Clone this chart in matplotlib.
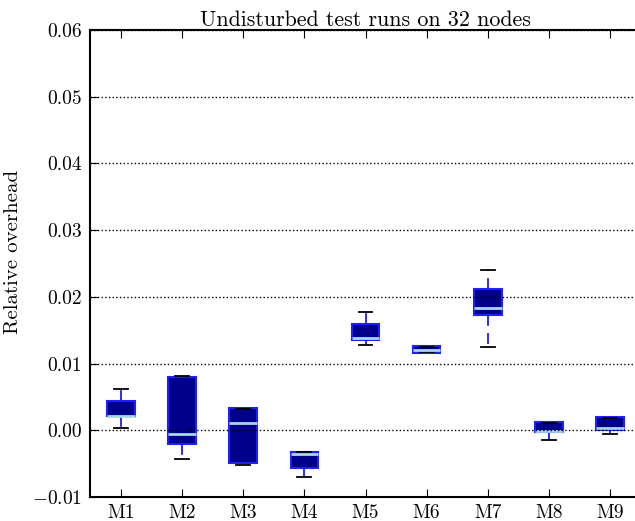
import matplotlib
matplotlib.use("Agg")
import matplotlib.pyplot as plt

plt.rcParams['font.family'] = 'cmr10'
plt.rcParams['axes.formatter.use_mathtext'] = True
plt.rcParams['mathtext.fontset'] = 'cm'

labels = ["M1", "M2", "M3", "M4", "M5", "M6", "M7", "M8", "M9"]
q1 = [0.0021, -0.0020, -0.0049, -0.0057, 0.0135, 0.0116, 0.0173, -0.0003, 0.0000]
q3 = [0.0044, 0.0080, 0.0033, -0.0033, 0.0159, 0.0126, 0.0212, 0.0012, 0.0020]
med = [0.0022, -0.0006, 0.0011, -0.0035, 0.0138, 0.0120, 0.0184, -0.0001, 0.0004]
whislo = [0.0003, -0.0043, -0.0052, -0.0070, 0.0128, 0.0117, 0.0125, -0.0015, -0.0005]
whishi = [0.0062, 0.0081, 0.0032, -0.0033, 0.0178, 0.0125, 0.0241, 0.0011, 0.0019]
yticks = [-0.01, 0.0, 0.01, 0.02, 0.03, 0.04, 0.05, 0.06]
yticklabels = ["$-0.01$", "0.00", "0.01", "0.02", "0.03", "0.04", "0.05", "0.06"]

stats = []
for i in range(len(labels)):
    stats.append(dict(label=labels[i], q1=q1[i], q3=q3[i], med=med[i],
                      whislo=whislo[i], whishi=whishi[i], fliers=[]))

fig = plt.figure(figsize=(6.35, 5.21), dpi=100)
ax = fig.add_axes([90.4/635, 24/521, 550.2/635, 467/521])

ax.bxp(stats, positions=range(1, 10), widths=0.45, patch_artist=True,
       boxprops=dict(facecolor='#00008b', edgecolor='#2020ff', linewidth=1.5),
       medianprops=dict(color='#a8d8e8', linewidth=2.0),
       whiskerprops=dict(color='#1a1aff', linewidth=1.3, linestyle=(0, (6, 4))),
       capprops=dict(color='black', linewidth=1.3),
       showfliers=False)

ax.set_xlim(0.5, 9.5)
ax.set_ylim(-0.01, 0.06)
ax.set_yticks(yticks)
ax.set_yticklabels(yticklabels)
ax.yaxis.grid(True, linestyle=':', color='black', linewidth=1.0)
ax.set_axisbelow(False)
ax.tick_params(axis='x', direction='in', top=True, bottom=True, length=6, labelsize=14, pad=5)
ax.tick_params(axis='y', direction='in', right=False, length=6, labelsize=14, pad=6)
for s in ax.spines.values():
    s.set_linewidth(1.5)
ax.set_ylabel("Relative overhead", fontsize=15)
ax.yaxis.set_label_coords(-0.124, 0.524)
ax.set_title("Undisturbed test runs on 32 nodes", fontsize=15.8, pad=3)

fig.savefig("out.png", dpi=100)
